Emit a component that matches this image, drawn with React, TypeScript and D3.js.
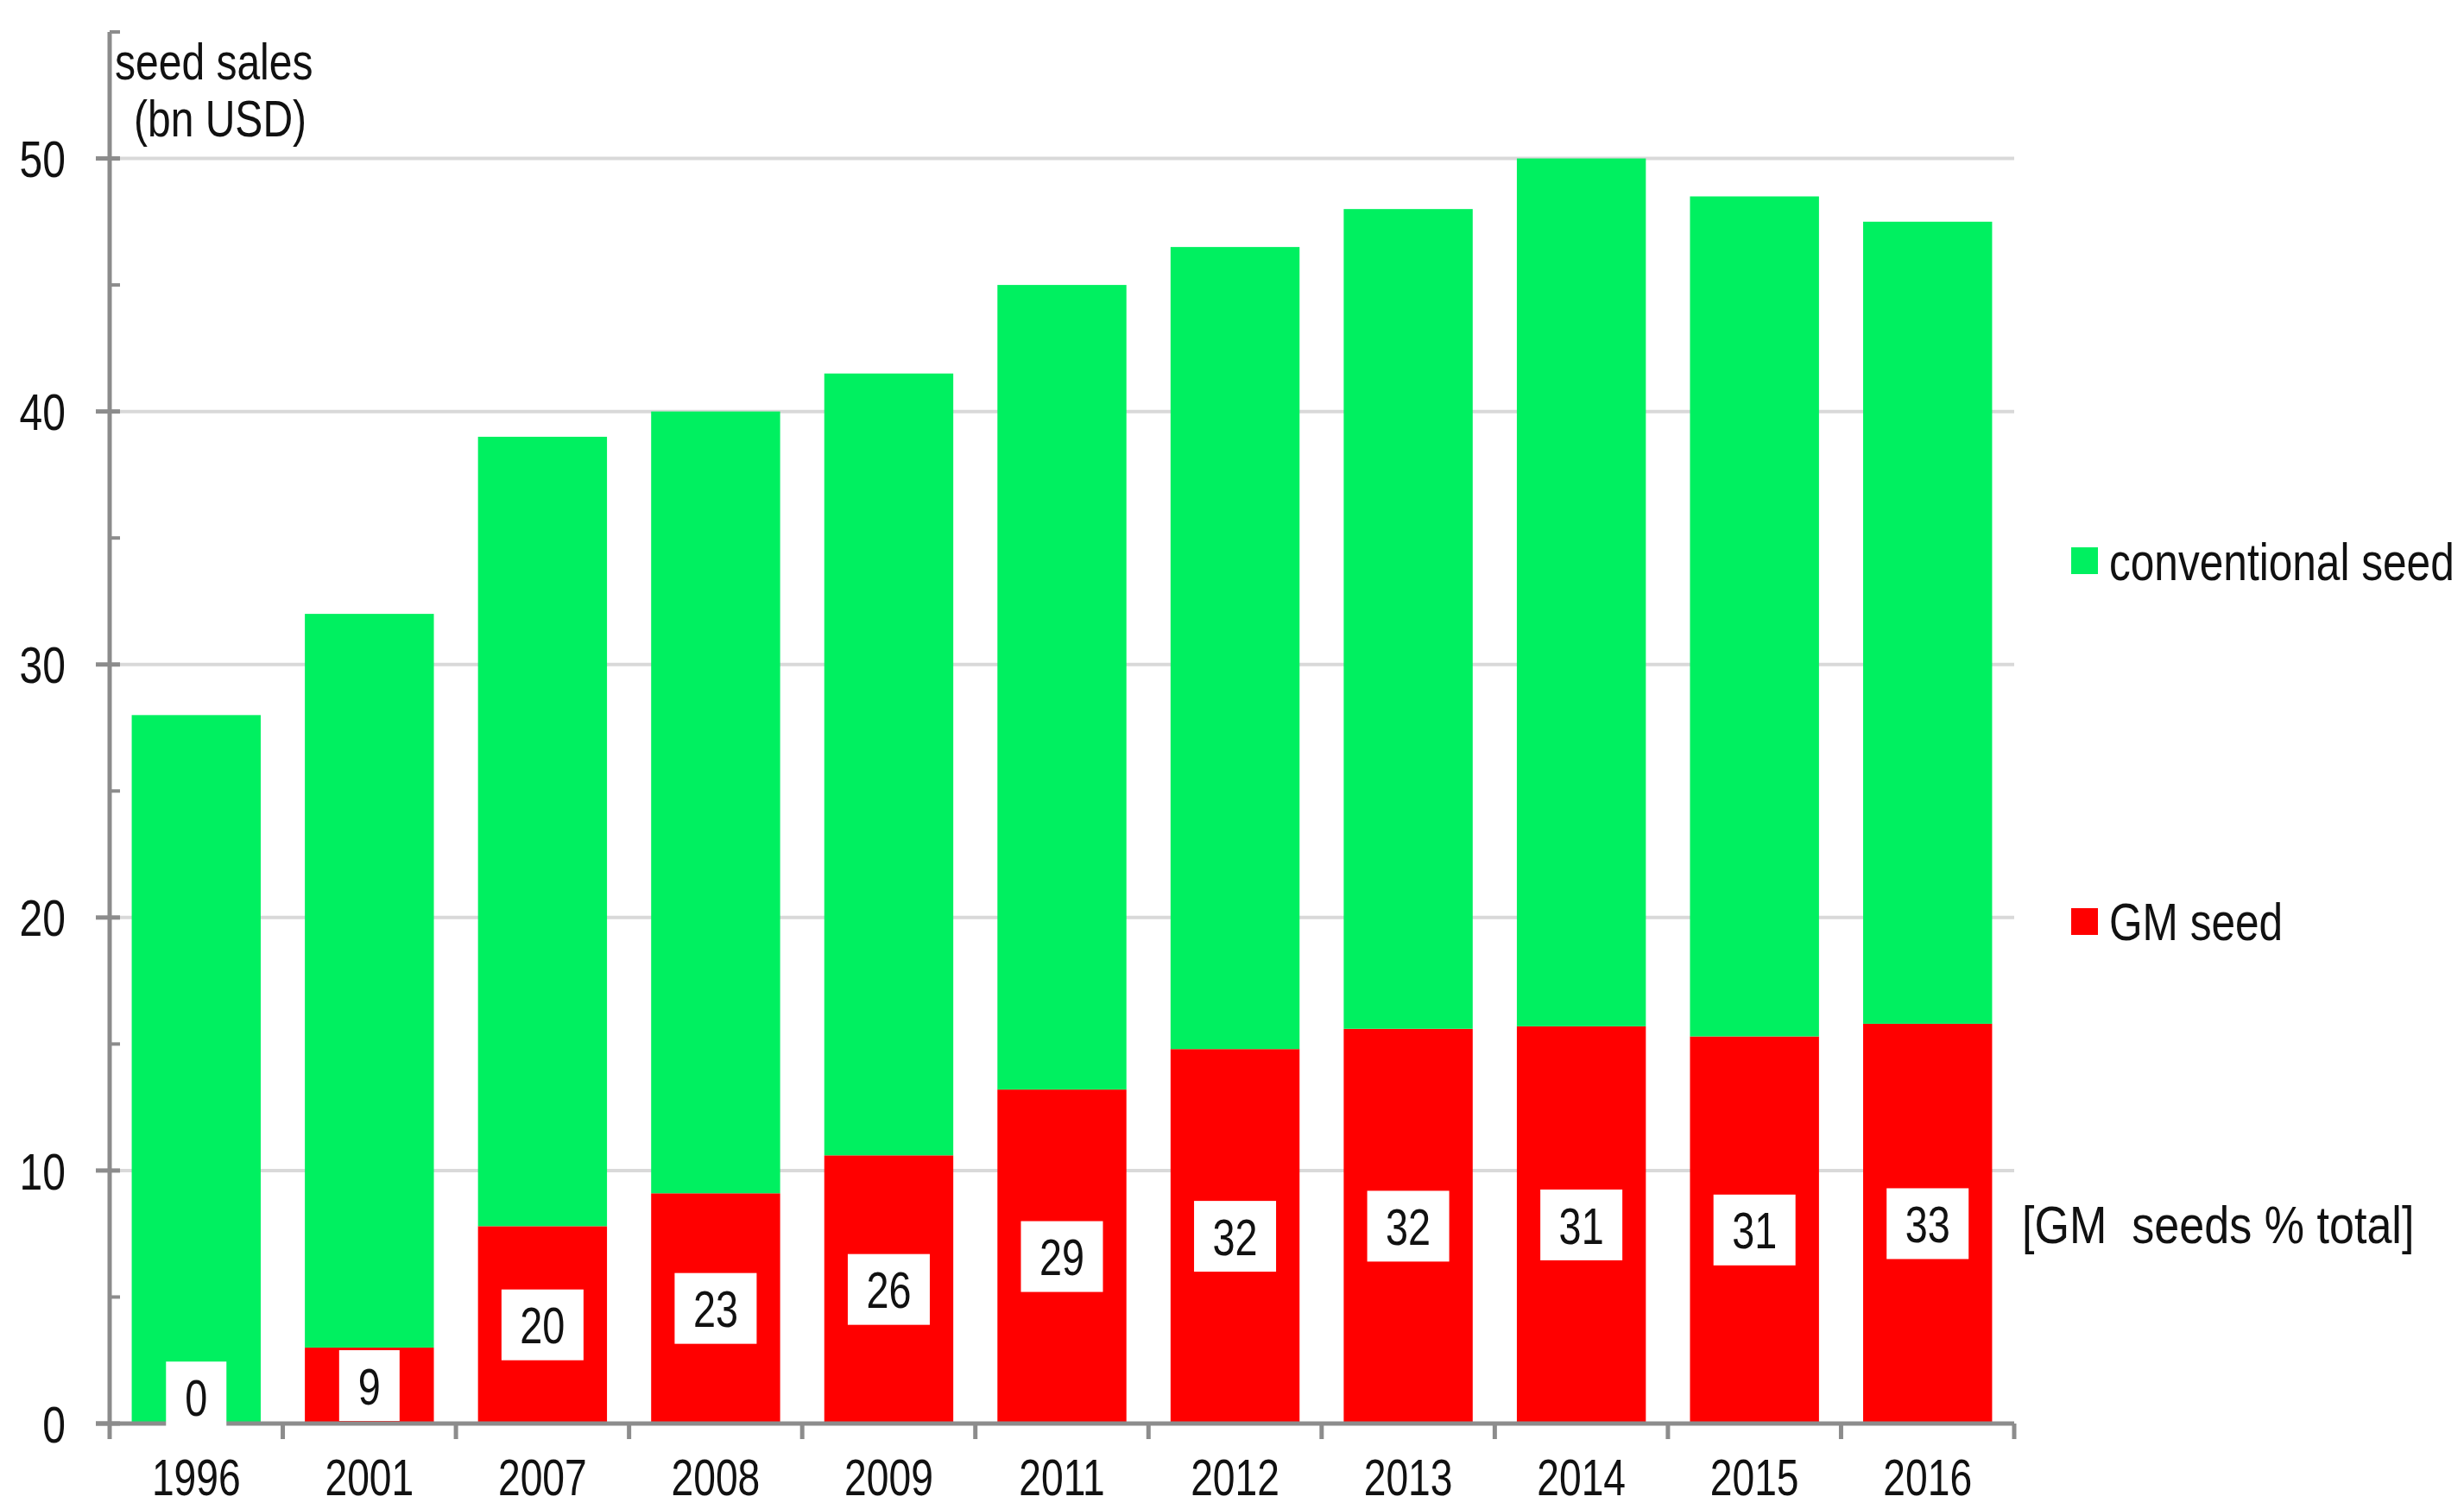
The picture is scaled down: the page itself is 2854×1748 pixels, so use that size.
import { useEffect } from 'react'
import * as d3 from 'd3'

const years = ['1996', '2001', '2007', '2008', '2009', '2011', '2012', '2013', '2014', '2015', '2016']
// total seed sales (bn USD)
const totalSales = [28, 32, 39, 40, 41.5, 45, 46.5, 48, 50, 48.5, 47.5]
// GM seed sales (bn USD)
const gmSales = [0, 3, 7.8, 9.1, 10.6, 13.2, 14.8, 15.6, 15.7, 15.3, 15.8]
// GM seeds as % of total
const gmShare = [0, 9, 20, 23, 26, 29, 32, 32, 31, 31, 33]
const yTicks = [0, 10, 20, 30, 40, 50]
const yMinorTicks = [5, 15, 25, 35, 45, 55]

const W = 2854
const H = 1748
const GREEN = '#00f060'
const RED = '#ff0000'
const AXIS = '#8c8c8c'
const GRID = '#d9d9d9'
const FONT = '"Liberation Sans", Arial, sans-serif'

function Label({ x, y, size = 62, sx = 0.8, anchor = 'start', children }: any) {
  return (
    <text
      transform={`translate(${x},${y}) scale(${sx},1)`}
      fontSize={size}
      fontFamily={FONT}
      textAnchor={anchor}
      dy="0.36em"
      fill="#111"
    >
      {children}
    </text>
  )
}

export default function App() {
  useEffect(() => {
    document.body.style.margin = '0'
  }, [])

  const x0 = 127
  const x1 = 2333
  const x = d3.scaleBand<string>().domain(years).range([x0, x1]).paddingInner(0.255).paddingOuter(0.1275)
  const y = d3.scaleLinear().domain([0, 55]).range([1649, 37])

  const rows = years.map((yr, i) => ({ year: yr, gm: gmSales[i], conv: totalSales[i] - gmSales[i], share: gmShare[i] }))
  const stacked = d3.stack<any>().keys(['gm', 'conv'])(rows)
  const colors = [RED, GREEN]
  const step = x.step()

  return (
    <svg width={W} height={H} style={{ display: 'block', background: '#fff' }}>
      {/* gridlines */}
      {yTicks.filter(t => t > 0).map(t => (
        <line key={t} x1={x0} x2={x1} y1={y(t)} y2={y(t)} stroke={GRID} strokeWidth={4} />
      ))}

      {/* bars */}
      {stacked.map((layer, li) => (
        <g key={li} fill={colors[li]}>
          {layer.map((d, i) => (
            <rect
              key={i}
              x={x(years[i])}
              width={x.bandwidth()}
              y={y(d[1])}
              height={Math.max(0, y(d[0]) - y(d[1]))}
            />
          ))}
        </g>
      ))}

      {/* y axis */}
      <line x1={x0} x2={x0} y1={y(55)} y2={y(0)} stroke={AXIS} strokeWidth={5} />
      {yTicks.map(t => (
        <line key={t} x1={x0 - 16} x2={x0 + 12} y1={y(t)} y2={y(t)} stroke={AXIS} strokeWidth={5} />
      ))}
      {yMinorTicks.map(t => (
        <line key={t} x1={x0} x2={x0 + 12} y1={y(t)} y2={y(t)} stroke={AXIS} strokeWidth={4} />
      ))}
      {yTicks.map(t => (
        <Label key={t} x={76} y={y(t)} anchor="end" size={60} sx={0.8}>{t}</Label>
      ))}

      {/* x axis */}
      <line x1={x0 - 16} x2={x1} y1={y(0)} y2={y(0)} stroke={AXIS} strokeWidth={5} />
      {d3.range(years.length + 1).map(i => (
        <line key={i} x1={x0 + i * step} x2={x0 + i * step} y1={y(0)} y2={y(0) + 18} stroke={AXIS} strokeWidth={5} />
      ))}
      {years.map(yr => (
        <Label key={yr} x={(x(yr) as number) + x.bandwidth() / 2} y={1710} anchor="middle" size={60} sx={0.77}>{yr}</Label>
      ))}

      {/* GM share labels */}
      {rows.map((r) => {
        const cx = (x(r.year) as number) + x.bandwidth() / 2
        const cy = y(Math.max(r.gm / 2, 1.05))
        const bw = r.share >= 10 ? 95 : 70
        const bh = 82
        return (
          <g key={r.year}>
            <rect x={cx - bw / 2} y={cy - bh / 2} width={bw} height={bh} fill="#fff" />
            <Label x={cx} y={cy} anchor="middle" size={60} sx={0.78}>{r.share}</Label>
          </g>
        )
      })}

      {/* axis title */}
      <Label x={133} y={70} size={60} sx={0.8}>seed sales</Label>
      <Label x={155} y={136} size={60} sx={0.8}>(bn USD)</Label>

      {/* legend */}
      <rect x={2399} y={634} width={31} height={31} fill={GREEN} />
      <Label x={2443} y={650} size={62} sx={0.8}>conventional seed</Label>
      <rect x={2399} y={1052} width={31} height={31} fill={RED} />
      <Label x={2443} y={1067} size={62} sx={0.8}>GM seed</Label>

      <Label x={2342} y={1418} size={62} sx={0.84}>{'[GM\u00a0 seeds % total]'}</Label>
    </svg>
  )
}
